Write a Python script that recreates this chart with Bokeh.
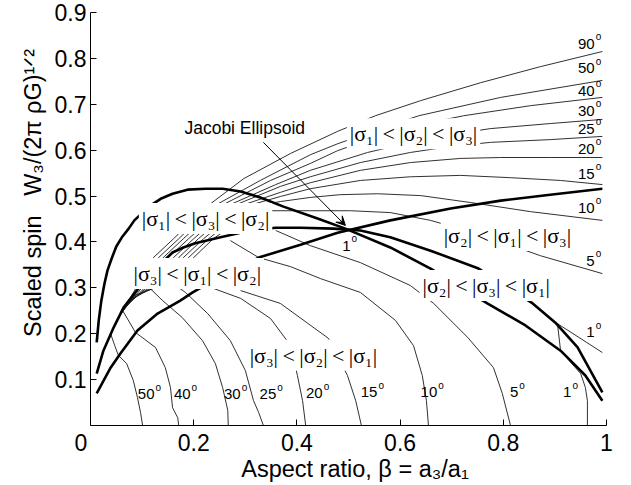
from bokeh.plotting import figure
from bokeh.models import Arrow, VeeHead, FixedTicker, Label
from bokeh.embed import file_html
from bokeh.resources import INLINE
from bokeh.core.properties import value

SANS = "Liberation Sans"
SERIF = "Liberation Serif"
NB = "\u00a0"
TH = "\u2009"

# ---- thick curves ----
thick_a_x = [0.012, 0.016, 0.021, 0.027, 0.033, 0.041, 0.050, 0.062, 0.074, 0.085, 0.101, 0.116, 0.136, 0.159, 0.188, 0.223, 0.256, 0.291, 0.329, 0.374, 0.440, 0.494, 0.581, 0.659, 0.769, 0.843, 0.911, 0.959, 0.992]
thick_a_y = [0.181, 0.229, 0.272, 0.309, 0.338, 0.364, 0.390, 0.412, 0.429, 0.447, 0.464, 0.479, 0.494, 0.505, 0.514, 0.516, 0.516, 0.510, 0.497, 0.477, 0.451, 0.429, 0.388, 0.342, 0.266, 0.218, 0.163, 0.109, 0.054]
thick_b_x = [0.012, 0.025, 0.045, 0.064, 0.087, 0.116, 0.159, 0.180, 0.203, 0.252, 0.310, 0.359, 0.407, 0.471, 0.523, 0.581, 0.659, 0.752, 0.857, 0.901, 0.944, 0.992]
thick_b_y = [0.113, 0.163, 0.214, 0.257, 0.290, 0.331, 0.377, 0.388, 0.397, 0.410, 0.425, 0.431, 0.431, 0.429, 0.425, 0.410, 0.381, 0.342, 0.266, 0.224, 0.170, 0.072]
thick_c_x = [0.012, 0.039, 0.058, 0.091, 0.130, 0.174, 0.198, 0.262, 0.326, 0.407, 0.479, 0.581, 0.698, 0.795, 0.891, 0.992]
thick_c_y = [0.070, 0.126, 0.157, 0.207, 0.244, 0.272, 0.290, 0.331, 0.366, 0.394, 0.420, 0.447, 0.473, 0.490, 0.503, 0.516]

# ---- upper family (|s1|<|s2|<|s3| side), one curve per angle ----
up90_x = [0.048, 0.091, 0.122, 0.161, 0.223, 0.297, 0.388, 0.479, 0.552, 0.640, 0.756, 0.872, 0.992]
up90_y = [0.222, 0.305, 0.366, 0.407, 0.475, 0.538, 0.593, 0.641, 0.675, 0.708, 0.747, 0.782, 0.815]
up50_x = [0.052, 0.097, 0.132, 0.171, 0.234, 0.329, 0.426, 0.479, 0.562, 0.636, 0.795, 0.992]
up50_y = [0.231, 0.305, 0.366, 0.407, 0.475, 0.534, 0.590, 0.614, 0.647, 0.675, 0.715, 0.752]
up40_x = [0.056, 0.103, 0.141, 0.180, 0.246, 0.349, 0.426, 0.479, 0.601, 0.723, 0.853, 0.992]
up40_y = [0.240, 0.305, 0.366, 0.407, 0.475, 0.534, 0.571, 0.599, 0.647, 0.675, 0.697, 0.715]
up30_x = [0.060, 0.109, 0.151, 0.190, 0.258, 0.359, 0.426, 0.537, 0.659, 0.775, 0.891, 0.992]
up30_y = [0.248, 0.305, 0.366, 0.407, 0.475, 0.525, 0.556, 0.595, 0.627, 0.647, 0.658, 0.667]
up25_x = [0.064, 0.114, 0.161, 0.200, 0.269, 0.368, 0.426, 0.523, 0.620, 0.698, 0.775, 0.891, 0.992]
up25_y = [0.257, 0.305, 0.366, 0.407, 0.475, 0.521, 0.542, 0.573, 0.595, 0.608, 0.617, 0.623, 0.630]
up20_x = [0.068, 0.120, 0.171, 0.209, 0.281, 0.368, 0.426, 0.523, 0.620, 0.717, 0.795, 0.891, 0.992]
up20_y = [0.264, 0.305, 0.366, 0.407, 0.475, 0.508, 0.529, 0.556, 0.573, 0.582, 0.584, 0.584, 0.584]
up15_x = [0.072, 0.126, 0.180, 0.219, 0.293, 0.368, 0.426, 0.523, 0.620, 0.717, 0.814, 0.911, 0.992]
up15_y = [0.270, 0.305, 0.366, 0.407, 0.475, 0.499, 0.516, 0.534, 0.542, 0.545, 0.540, 0.534, 0.525]
up10_x = [0.076, 0.132, 0.190, 0.229, 0.304, 0.368, 0.426, 0.484, 0.556, 0.640, 0.736, 0.853, 0.992]
up10_y = [0.275, 0.305, 0.366, 0.407, 0.475, 0.488, 0.497, 0.503, 0.505, 0.501, 0.486, 0.466, 0.447]
up5_x = [0.079, 0.138, 0.200, 0.238, 0.316, 0.426, 0.504, 0.581, 0.659, 0.756, 0.872, 0.992]
up5_y = [0.281, 0.305, 0.366, 0.407, 0.468, 0.468, 0.468, 0.464, 0.447, 0.416, 0.370, 0.331]
up1_x = [0.905, 0.992]
up1_y = [0.222, 0.159]

# ---- lower family (|s3|<|s2|<|s1| side) ----
low50_x = [0.039, 0.047, 0.054, 0.070, 0.083, 0.091, 0.097, 0.101]
low50_y = [0.200, 0.174, 0.153, 0.135, 0.098, 0.061, 0.028, 0.000]
low40_x = [0.062, 0.087, 0.126, 0.145, 0.155, 0.159, 0.169, 0.171]
low40_y = [0.251, 0.203, 0.170, 0.126, 0.083, 0.039, 0.017, 0.000]
low30_x = [0.116, 0.140, 0.178, 0.217, 0.242, 0.256, 0.266, 0.267]
low30_y = [0.298, 0.272, 0.235, 0.185, 0.135, 0.083, 0.033, 0.000]
low25_x = [0.165, 0.184, 0.227, 0.271, 0.300, 0.316, 0.326, 0.335]
low25_y = [0.305, 0.290, 0.244, 0.185, 0.120, 0.054, 0.028, 0.000]
low20_x = [0.223, 0.291, 0.349, 0.388, 0.401, 0.411, 0.417]
low20_y = [0.305, 0.277, 0.233, 0.174, 0.109, 0.054, 0.000]
low15_x = [0.291, 0.368, 0.461, 0.498, 0.514, 0.525]
low15_y = [0.294, 0.266, 0.190, 0.109, 0.054, 0.000]
low10_x = [0.271, 0.326, 0.388, 0.446, 0.523, 0.591, 0.626, 0.643, 0.651, 0.655]
low10_y = [0.403, 0.366, 0.346, 0.320, 0.290, 0.229, 0.174, 0.109, 0.054, 0.000]
low5_x = [0.359, 0.426, 0.523, 0.620, 0.665, 0.731, 0.781, 0.798, 0.814]
low5_y = [0.425, 0.392, 0.355, 0.305, 0.266, 0.192, 0.126, 0.070, 0.000]
low1_x = [0.905, 0.911, 0.950, 0.959, 0.963, 0.963]
low1_y = [0.222, 0.163, 0.113, 0.083, 0.054, 0.000]

# ---- region labels ----
def rel(a, b, c):
    return f"|σ{a}|{TH}<{TH}|σ{b}|{TH}<{TH}|σ{c}|"

region_text = [rel("₁", "₂", "₃"), rel("₁", "₃", "₂"), rel("₃", "₁", "₂"),
               rel("₃", "₂", "₁"), rel("₂", "₁", "₃"), rel("₂", "₃", "₁")]
region_x = [0.626, 0.223, 0.207, 0.432, 0.808, 0.767]
region_y = [0.636, 0.451, 0.331, 0.153, 0.414, 0.305]

# ---- angle labels (x = junction between number and degree mark) ----
angle_text = ["90", "50", "40", "30", "25", "20", "15", "10", "5", "1",
              "50", "40", "30", "25", "20", "15", "10", "5", "1", "1"]
angle_x = [0.977] * 10 + [0.124, 0.194, 0.291, 0.360, 0.450, 0.556, 0.672, 0.829, 0.932, 0.504]
angle_y = [0.832, 0.778, 0.730, 0.686, 0.647, 0.603, 0.549, 0.475, 0.359, 0.203,
           0.068, 0.068, 0.068, 0.068, 0.070, 0.072, 0.072, 0.072, 0.072, 0.392]

jacobi_label = "Jacobi Ellipsoid"
jacobi_xy = (0.182, 0.649)
arrow_x = [0.335, 0.494]
arrow_y = [0.617, 0.436]

x_ticks = [0, 0.2, 0.4, 0.6, 0.8, 1.0]
y_ticks = [0.1, 0.2, 0.3, 0.4, 0.5, 0.6, 0.7, 0.8, 0.9]

p = figure(width=631, height=485, x_range=(0, 1), y_range=(0, 0.9),
           output_backend="svg", toolbar_location=None,
           min_border_left=90, min_border_right=25, min_border_top=12, min_border_bottom=60)
p.outline_line_color = None
p.grid.visible = False
p.background_fill_color = "white"

for ax in (p.xaxis[0], p.yaxis[0]):
    ax.major_tick_in = 6
    ax.major_tick_out = 0
    ax.minor_tick_line_color = None
    ax.axis_line_color = "black"
    ax.major_tick_line_color = "black"
    ax.major_label_text_font = SANS
    ax.major_label_text_font_size = "23px"
    ax.major_label_text_color = "black"
    ax.axis_label_text_font = SANS
    ax.axis_label_text_font_size = "23.5px"
    ax.axis_label_text_font_style = "normal"
    ax.axis_label_text_color = "black"

p.xaxis.ticker = FixedTicker(ticks=x_ticks)
p.yaxis.ticker = FixedTicker(ticks=y_ticks)
p.xaxis.major_label_overrides = {0: "0" + NB * 3}
p.xaxis.major_label_standoff = 4
p.yaxis.major_label_standoff = 4
p.xaxis.axis_label = NB * 2 + "Aspect ratio, β = a₃/a₁"
p.yaxis.axis_label = NB * 8 + "Scaled spin" + NB * 3 + "W₃/(2π ρG)¹ᐟ²"
p.xaxis.axis_label_standoff = -3
p.yaxis.axis_label_standoff = 6

thin = dict(line_color="#1a1a1a", line_width=0.9)
for xs, ys in [(up90_x, up90_y), (up50_x, up50_y), (up40_x, up40_y), (up30_x, up30_y),
               (up25_x, up25_y), (up20_x, up20_y), (up15_x, up15_y), (up10_x, up10_y),
               (up5_x, up5_y), (up1_x, up1_y),
               (low50_x, low50_y), (low40_x, low40_y), (low30_x, low30_y), (low25_x, low25_y),
               (low20_x, low20_y), (low15_x, low15_y), (low10_x, low10_y), (low5_x, low5_y),
               (low1_x, low1_y)]:
    p.line(xs, ys, **thin)

for xs, ys in [(thick_a_x, thick_a_y), (thick_b_x, thick_b_y), (thick_c_x, thick_c_y)]:
    p.line(xs, ys, line_color="black", line_width=2.6)

p.text(x=region_x, y=region_y, text=region_text, text_font=value(SERIF),
       text_font_size="22px", text_align="center", text_baseline="middle",
       text_color="black", background_fill_color="white", padding=3)

p.text(x=angle_x, y=angle_y, text=angle_text, text_font=value(SANS),
       text_font_size="15px", text_align="right", text_baseline="middle", text_color="black")
p.text(x=angle_x, y=angle_y, text=["o"] * len(angle_x), text_font=value(SANS),
       text_font_size="10px", text_align="left", text_baseline="middle", text_color="black",
       y_offset=-7, x_offset=1)

p.add_layout(Label(x=jacobi_xy[0], y=jacobi_xy[1], text=jacobi_label, text_font=SANS,
                   text_font_size="17.5px", text_baseline="middle", text_align="left",
                   text_color="black"))
p.add_layout(Arrow(end=VeeHead(size=9, fill_color="black", line_color="black", line_width=1),
                   x_start=arrow_x[0], y_start=arrow_y[0], x_end=arrow_x[1], y_end=arrow_y[1],
                   line_color="black", line_width=1))

open("out.html", "w").write(file_html(p, INLINE))
